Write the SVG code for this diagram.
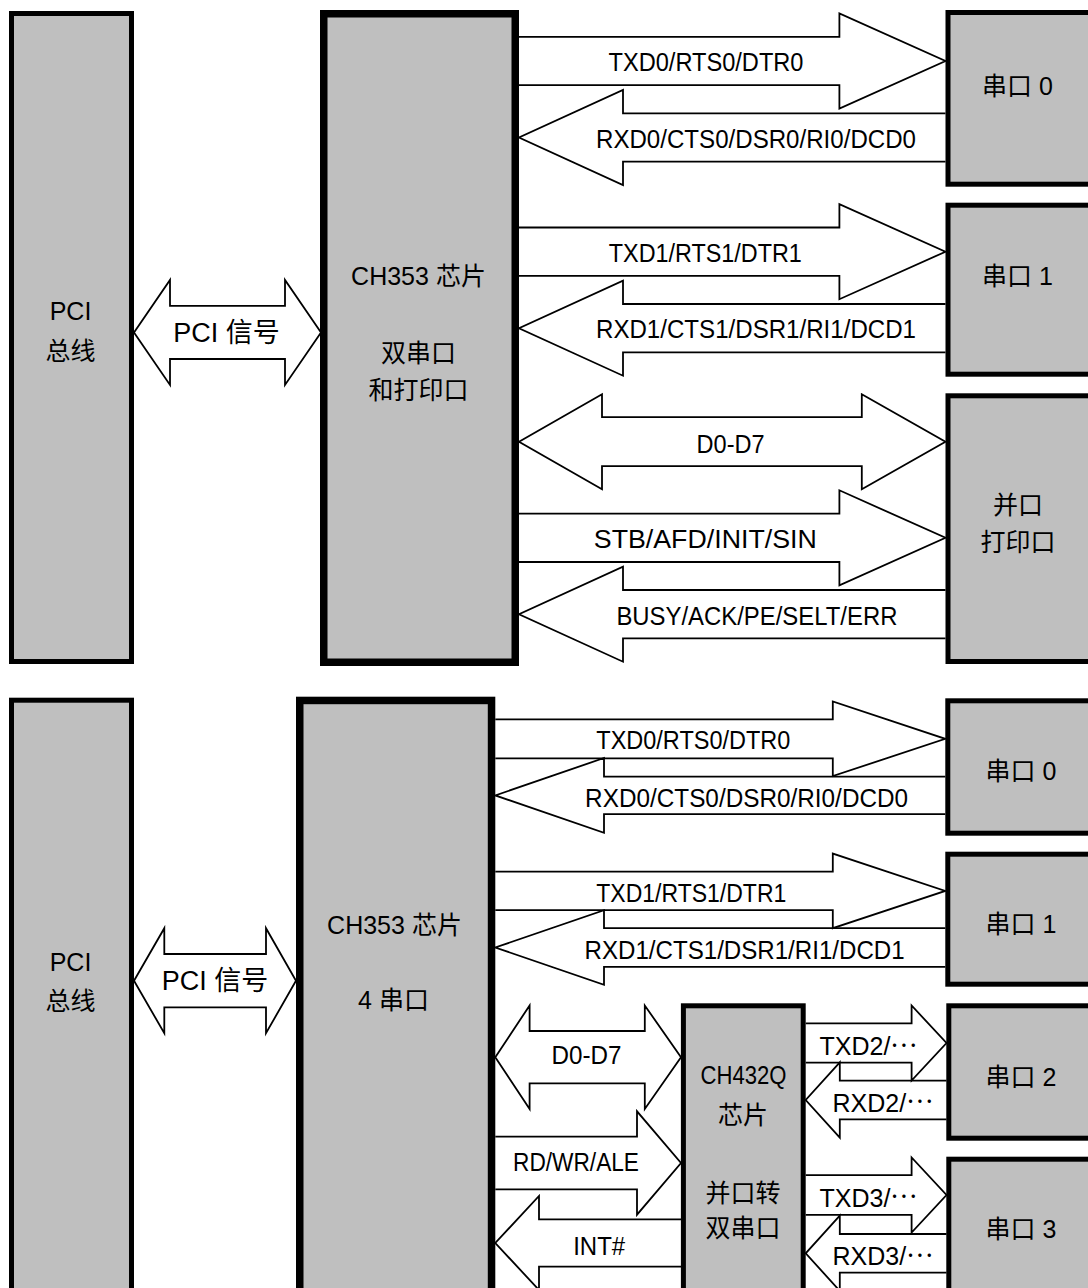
<svg xmlns="http://www.w3.org/2000/svg" width="1088" height="1288" viewBox="0 0 1088 1288">
<style>
.box{fill:#bfbfbf;stroke:#000;stroke-width:5}
.chip{fill:#bfbfbf;stroke:#000;stroke-width:7.5}
.arr{fill:none;stroke:#000;stroke-width:1.8;stroke-linejoin:miter}
text{font-family:"Liberation Sans","Noto Sans CJK SC",sans-serif;font-size:25px;fill:#000}
.m{text-anchor:middle}
.e{font-family:"Noto Sans CJK SC",sans-serif}
</style>
<rect width="1088" height="1288" fill="#fff"/>

<!-- TOP DIAGRAM -->
<g id="pci-bus-top">
<rect class="box" x="11.5" y="13.5" width="120" height="648"/>
<text class="m" x="70.5" y="320">PCI</text>
<text class="m" x="70.5" y="360">总线</text>
</g>
<g id="ch353-top">
<rect class="chip" x="323.75" y="13.75" width="191.5" height="648.5"/>
<text class="m" x="418.5" y="285">CH353 芯片</text>
<text class="m" x="418.5" y="362">双串口</text>
<text class="m" x="418.5" y="399">和打印口</text>
</g>
<g id="serial0-top">
<rect class="box" x="948" y="12.5" width="160" height="171.7"/>
<text class="m" x="1017.5" y="95">串口 0</text>
</g>
<g id="serial1-top">
<rect class="box" x="948" y="205.2" width="160" height="169"/>
<text class="m" x="1017.5" y="284.5">串口 1</text>
</g>
<g id="parallel-top">
<rect class="box" x="948" y="395.8" width="160" height="265.7"/>
<text class="m" x="1018" y="514">并口</text>
<text class="m" x="1018" y="551">打印口</text>
</g>

<!-- BOTTOM DIAGRAM -->
<g id="pci-bus-bottom">
<rect class="box" x="11.5" y="700.2" width="120" height="620"/>
<text class="m" x="70.5" y="971">PCI</text>
<text class="m" x="70.5" y="1010">总线</text>
</g>
<g id="ch353-bottom">
<rect class="chip" x="299.75" y="700.45" width="191.8" height="620"/>
<text class="m" x="394.5" y="933.5">CH353 芯片</text>
<text class="m" x="393.5" y="1009">4 串口</text>
</g>
<g id="serial0-bottom">
<rect class="box" x="947.8" y="700.8" width="160" height="132.4"/>
<text class="m" x="1021" y="780">串口 0</text>
</g>
<g id="serial1-bottom">
<rect class="box" x="947.8" y="854.2" width="160" height="130"/>
<text class="m" x="1021" y="933">串口 1</text>
</g>
<g id="serial2-bottom">
<rect class="box" x="948.8" y="1005.8" width="160" height="132.4"/>
<text class="m" x="1021" y="1086">串口 2</text>
</g>
<g id="serial3-bottom">
<rect class="box" x="948.8" y="1159.2" width="160" height="200"/>
<text class="m" x="1021" y="1238">串口 3</text>
</g>
<g id="ch432q">
<rect class="box" x="683.4" y="1005.8" width="119.8" height="400"/>
<text class="m" x="743.5" y="1084" textLength="86" lengthAdjust="spacingAndGlyphs">CH432Q</text>
<text class="m" x="743" y="1124">芯片</text>
<text class="m" x="743" y="1202">并口转</text>
<text class="m" x="743" y="1237">双串口</text>
</g>

<g id="connectors">
<!-- top -->
<polygon class="arr" points="134,332.4 170,279.9 170,305.8 285,305.8 285,279.9 321,332.4 285,384.9 285,359 170,359 170,384.9"/>
<polyline class="arr" points="519,36.8 839.4,36.8 839.4,13.5 945.5,61 839.4,108.5 839.4,85.2 519,85.2"/>
<polyline class="arr" points="945.5,113.3 623,113.3 623,90 519,137.5 623,185 623,161.7 945.5,161.7"/>
<polyline class="arr" points="519,227.5 839.4,227.5 839.4,204.2 945.5,251.7 839.4,299.2 839.4,275.9 519,275.9"/>
<polyline class="arr" points="945.5,304 623,304 623,280.7 519,328.2 623,375.7 623,352.4 945.5,352.4"/>
<polygon class="arr" points="519,441.7 602,394.2 602,417.2 861.8,417.2 861.8,394.2 945.5,441.7 861.8,489.2 861.8,466.2 602,466.2 602,489.2"/>
<polyline class="arr" points="519,513.6 839.4,513.6 839.4,490.3 945.5,537.8 839.4,585.3 839.4,562 519,562"/>
<polyline class="arr" points="945.5,590 623,590 623,566.7 519,614.2 623,661.7 623,638.4 945.5,638.4"/>
<!-- bottom -->
<polygon class="arr" points="134,980.7 164.3,928.2 164.3,954 266,954 266,928.2 296,980.7 266,1033.2 266,1007.4 164.3,1007.4 164.3,1033.2"/>
<polyline class="arr" points="495.3,719.3 832.8,719.3 832.8,701.5 945.3,738.8 832.8,776.1 832.8,758.3 495.3,758.3"/>
<polyline class="arr" points="945.3,776.7 604,776.7 604,758 495.3,795.4 604,832.8 604,814.1 945.3,814.1"/>
<polyline class="arr" points="495.3,871.6 832.8,871.6 832.8,853.6 945.3,890.9 832.8,928.2 832.8,910.2 495.3,910.2"/>
<polyline class="arr" points="945.3,928.2 604,928.2 604,910.2 495.3,947.5 604,984.8 604,966.8 945.3,966.8"/>
<polygon class="arr" points="495.3,1057.2 529.6,1005.5 529.6,1031 644.8,1031 644.8,1005.5 681,1057.2 644.8,1108.9 644.8,1083.4 529.6,1083.4 529.6,1108.9"/>
<polyline class="arr" points="495.3,1136.7 637,1136.7 637,1111.3 681,1163 637,1214.7 637,1189.3 495.3,1189.3"/>
<polyline class="arr" points="681,1219.3 539,1219.3 539,1196 495.3,1243 539,1290 539,1266.7 681,1266.7"/>
<polyline class="arr" points="805.7,1023.3 911.6,1023.3 911.6,1005.5 946.5,1043 911.6,1080.5 911.6,1062.7 805.7,1062.7"/>
<polyline class="arr" points="946.5,1080.7 839.8,1080.7 839.8,1062.4 805.7,1100 839.8,1137.6 839.8,1119.3 946.5,1119.3"/>
<polyline class="arr" points="805.7,1175.2 911.6,1175.2 911.6,1157.5 946.5,1195 911.6,1232.5 911.6,1214.8 805.7,1214.8"/>
<polyline class="arr" points="946.5,1234 839.8,1234 839.8,1215.7 805.7,1253.3 839.8,1290.9 839.8,1272.6 946.5,1272.6"/>

<!-- labels top -->
<text class="m" x="226.5" y="341.5" style="font-size:27px">PCI 信号</text>
<text class="m" x="706" y="71" textLength="195" lengthAdjust="spacingAndGlyphs">TXD0/RTS0/DTR0</text>
<text class="m" x="756" y="148" textLength="320" lengthAdjust="spacingAndGlyphs">RXD0/CTS0/DSR0/RI0/DCD0</text>
<text class="m" x="705.3" y="262.3" textLength="193" lengthAdjust="spacingAndGlyphs">TXD1/RTS1/DTR1</text>
<text class="m" x="756" y="338.3" textLength="320" lengthAdjust="spacingAndGlyphs">RXD1/CTS1/DSR1/RI1/DCD1</text>
<text class="m" x="730.6" y="453.3" textLength="68" lengthAdjust="spacingAndGlyphs">D0-D7</text>
<text class="m" x="705.3" y="547.7" textLength="223" lengthAdjust="spacingAndGlyphs">STB/AFD/INIT/SIN</text>
<text class="m" x="756.9" y="625" textLength="281" lengthAdjust="spacingAndGlyphs">BUSY/ACK/PE/SELT/ERR</text>
<!-- labels bottom -->
<text class="m" x="215" y="989.5" style="font-size:27px">PCI 信号</text>
<text class="m" x="693.3" y="749" textLength="194" lengthAdjust="spacingAndGlyphs">TXD0/RTS0/DTR0</text>
<text class="m" x="746.6" y="806.7" textLength="323" lengthAdjust="spacingAndGlyphs">RXD0/CTS0/DSR0/RI0/DCD0</text>
<text class="m" x="691.3" y="901.7" textLength="190" lengthAdjust="spacingAndGlyphs">TXD1/RTS1/DTR1</text>
<text class="m" x="744.6" y="959.3" textLength="320" lengthAdjust="spacingAndGlyphs">RXD1/CTS1/DSR1/RI1/DCD1</text>
<text class="m" x="586.6" y="1064" textLength="70" lengthAdjust="spacingAndGlyphs">D0-D7</text>
<text class="m" x="576" y="1171" textLength="126" lengthAdjust="spacingAndGlyphs">RD/WR/ALE</text>
<text class="m" x="599.2" y="1255" textLength="52" lengthAdjust="spacingAndGlyphs">INT#</text>
<text x="819.5" y="1055">TXD2/<tspan class="e" dy="-8.5">…</tspan></text>
<text x="832.5" y="1111.7">RXD2/<tspan class="e" dy="-8.5">…</tspan></text>
<text x="819.5" y="1206.7">TXD3/<tspan class="e" dy="-8.5">…</tspan></text>
<text x="832.5" y="1265">RXD3/<tspan class="e" dy="-8.5">…</tspan></text>
</g>
</svg>
